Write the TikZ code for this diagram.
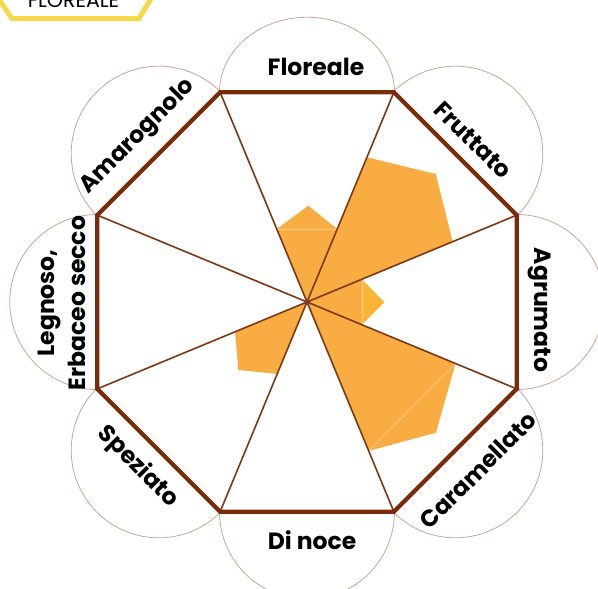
\documentclass[tikz,border=0pt]{standalone}
\usepackage{fontspec}
\setmainfont{Poppins}
\usetikzlibrary{calc}
\definecolor{octbrown}{RGB}{122,44,10}
\definecolor{spokebrown}{RGB}{125,56,20}
\definecolor{arcbrown}{RGB}{200,165,148}
\definecolor{petal}{RGB}{249,172,66}
\definecolor{petalcap}{RGB}{251,181,52}
\definecolor{seam}{RGB}{253,206,140}
\definecolor{tagyellow}{RGB}{247,216,74}
\tikzset{
  octline/.style={draw=octbrown,line width=4.2pt,line join=miter},
  spoke/.style={draw=spokebrown,line width=1.6pt},
  labelarc/.style={draw=arcbrown,line width=0.8pt},
  petalfill/.style={fill=petal},
  seamline/.style={draw=seam,line width=0.6pt},
  cat/.style={font=\bfseries\fontsize{23.5}{31}\selectfont,text=black,align=center,inner sep=0pt},
  tagtext/.style={font=\fontsize{20.5}{22}\selectfont,text=black,inner sep=0pt,anchor=base}
}
\begin{document}
\begin{tikzpicture}[x=1pt,y=-1pt]
\useasboundingbox (0,0) rectangle (598,589);
% tag
\draw[tagyellow,line width=5pt,line join=miter] (-6,-8) -- (12,18.5) -- (139,18.5) -- (155,-8);
\node[tagtext] (tag) at (73.5,7) {FLOREALE};
% geometry
\coordinate (c) at (307,302);
\coordinate (v1) at (393.87,92.28);
\coordinate (v2) at (516.72,215.13);
\coordinate (v3) at (516.72,388.87);
\coordinate (v4) at (393.87,511.72);
\coordinate (v5) at (220.13,511.72);
\coordinate (v6) at (97.28,388.87);
\coordinate (v7) at (97.28,215.13);
\coordinate (v8) at (220.13,92.28);
% label circles
\draw[labelarc] ($(v8)!0.5!(v1)$) ellipse[x radius=87.5pt,y radius=75pt];
\draw[labelarc] ($(v1)!0.5!(v2)$) circle[radius=87.5pt];
\draw[labelarc] ($(v2)!0.5!(v3)$) circle[radius=87.5pt];
\draw[labelarc] ($(v3)!0.5!(v4)$) circle[radius=87.5pt];
\draw[labelarc] ($(v4)!0.5!(v5)$) circle[radius=87.5pt];
\draw[labelarc] ($(v5)!0.5!(v6)$) circle[radius=87.5pt];
\draw[labelarc] ($(v6)!0.5!(v7)$) circle[radius=87.5pt];
\draw[labelarc] ($(v7)!0.5!(v8)$) circle[radius=87.5pt];
\fill[white] (v1) -- (v2) -- (v3) -- (v4) -- (v5) -- (v6) -- (v7) -- (v8) -- cycle;
% petals
\fill[petalfill] (c) -- ($(c)!0.348!(v8)$) -- (308.3,205.7) -- ($(c)!0.348!(v1)$) -- cycle;
\fill[petalfill] (c) -- ($(c)!0.69!(v1)$) -- (435.7,174) -- ($(c)!0.695!(v2)$) -- cycle;
\fill[petalfill] (c) -- ($(c)!0.262!(v2)$) -- ($(c)!0.262!(v3)$) -- cycle;
\fill[petalcap] ($(c)!0.262!(v2)$) -- (384.3,302.3) -- ($(c)!0.262!(v3)$) -- cycle;
\fill[petalfill] (c) -- ($(c)!0.708!(v3)$) -- (436,432.7) -- ($(c)!0.71!(v4)$) -- cycle;
\fill[petalfill] (c) -- ($(c)!0.343!(v5)$) -- (238.3,370) -- ($(c)!0.343!(v6)$) -- cycle;
\draw[seamline] ($(c)!0.348!(v8)$) -- ($(c)!0.348!(v1)$);
\draw[seamline] ($(c)!0.262!(v2)$) -- ($(c)!0.262!(v3)$);
\draw[seamline] ($(c)!0.708!(v3)$) -- ($(c)!0.71!(v4)$);
% spokes
\draw[spoke] (v1) -- (v5);
\draw[spoke] (v2) -- (v6);
\draw[spoke] (v3) -- (v7);
\draw[spoke] (v4) -- (v8);
% octagon
\draw[octline] (v1) -- (v2) -- (v3) -- (v4) -- (v5) -- (v6) -- (v7) -- (v8) -- cycle;
% labels
\node[cat] (flo) at (316,67) {Floreale};
\node[cat,rotate=-45] (fru) at (473,140) {Fruttato};
\node[cat,rotate=-90] (agr) at (540,310) {Agrumato};
\node[cat,rotate=45] (car) at (478,470) {Caramellato};
\node[cat] (din) at (312,540) {Di noce};
\node[cat,rotate=-45] (spe) at (138,467) {Speziato};
\node[cat,rotate=90] (leg) at (62,303) {Legnoso,\\Erbaceo secco};
\node[cat,rotate=45] (ama) at (138,137) {Amarognolo};
\end{tikzpicture}
\end{document}
